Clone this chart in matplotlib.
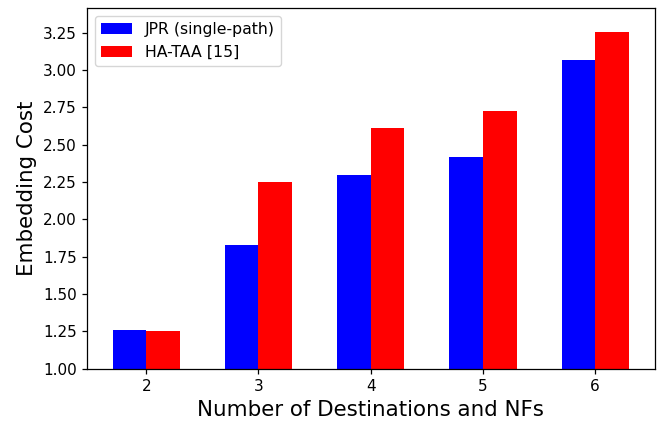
import matplotlib
matplotlib.use("Agg")
import matplotlib.pyplot as plt
import numpy as np

categories = [2, 3, 4, 5, 6]
jpr = [1.257, 1.826, 2.295, 2.415, 3.065]
hataa = [1.250, 2.248, 2.609, 2.723, 3.252]

fig = plt.figure(figsize=(6.57, 4.22), dpi=100)
ax = fig.add_axes([0.132, 0.126, 0.8645, 0.855])
x = np.array(categories, dtype=float)
w = 0.3
ax.bar(x - w / 2, jpr, w, color="blue", label="JPR (single-path)")
ax.bar(x + w / 2, hataa, w, color="red", label="HA-TAA [15]")
ax.set_xticks(x)
ax.set_xticklabels([str(c) for c in categories])
ax.set_ylim(1.0, 3.415)
ax.set_yticks(np.arange(1.0, 3.26, 0.25))
ax.set_yticklabels([f"{v:.2f}" for v in np.arange(1.0, 3.26, 0.25)])
ax.tick_params(labelsize=11, length=3.8, width=0.9)
for s in ax.spines.values():
    s.set_linewidth(0.9)
ax.set_xlabel("Number of Destinations and NFs", fontsize=15.4)
ax.set_ylabel("Embedding Cost", fontsize=15.4)
ax.legend(loc="upper left", fontsize=11.3)
fig.savefig("out.png", dpi=100)
